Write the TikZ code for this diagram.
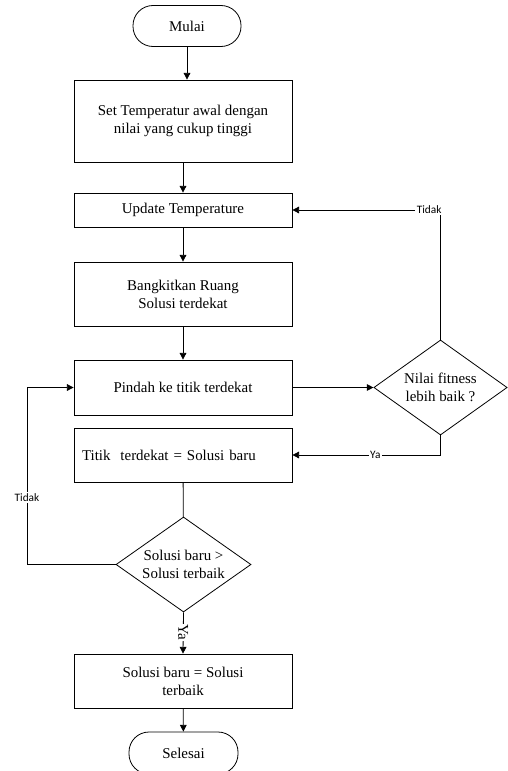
\documentclass[tikz,border=0pt]{standalone}
\usepackage{fontspec}
\setmainfont{Liberation Serif}
\newfontfamily\lblfont{Carlito}
\usetikzlibrary{arrows.meta,shapes.geometric}

\tikzset{
  txt/.style={font=\fontsize{11.2}{13.5}\selectfont},
  proc/.style={draw,rectangle,txt,minimum width=163.5pt,inner sep=0pt,align=center},
  term/.style={draw,rectangle,txt,rounded corners=15pt,minimum width=81pt,minimum height=30.75pt,inner sep=0pt},
  decide/.style={draw,diamond,txt,aspect=1.4,inner sep=0pt,minimum width=100pt,minimum height=71.25pt,align=center},
  flow/.style={-{Triangle[length=5pt,width=5pt]}},
  tag/.style={font=\lblfont\fontsize{8.5}{10}\selectfont,fill=white,inner sep=1pt},
}

\begin{document}
\begin{tikzpicture}[x=0.75pt,y=-0.75pt,line width=0.6pt]
\useasboundingbox (0,0) rectangle (507,771);
\node[term] (mulai) at (187,26) {Mulai};
\node[proc,minimum height=61.5pt] (settemp) at (183,121) {Set Temperatur awal dengan\\nilai yang cukup tinggi};
\node[proc,minimum height=25.5pt] (update) at (183,210) {Update Temperature};
\node[proc,minimum height=48pt] (bangkit) at (183,294) {Bangkitkan Ruang\\Solusi terdekat};
\node[proc,minimum height=41.25pt] (pindah) at (183,387.5) {Pindah ke titik terdekat};
\node[proc,minimum height=40.5pt,text width=151.5pt,inner xsep=6pt,align=left] (titik) at (183,455) {Titik\ \ terdekat = Solusi baru};
\node[decide] (fit) at (440.5,387.5) {Nilai fitness\\lebih baik ?};
\node[decide,minimum width=101.25pt] (cmp) at (183.5,564.5) {Solusi baru >\\Solusi terbaik};
\node[proc,minimum height=40.5pt] (solusi) at (183,681) {Solusi baru = Solusi\\terbaik};
\node[term,minimum width=81.75pt,minimum height=31.5pt] (selesai) at (183.5,753) {Selesai};
\coordinate (back) at (27,0);

\draw[flow] (mulai.south) -- (mulai.south |- settemp.north);
\draw[flow] (settemp) -- (update);
\draw[flow] (update) -- (bangkit);
\draw[flow] (bangkit) -- (pindah);
\draw[flow] (pindah.east) -- (fit.west);
\draw[flow] (fit.north) -- (fit.north |- update.east) node[tag,anchor=east,xshift=2pt]{Tidak} -- (update.east);
\draw[flow] (fit.south) |- (titik.east) node[tag,pos=0.72]{Ya};
\draw (titik) -- (cmp);
\draw[flow] (cmp.west) -- (cmp.west -| back) |- (pindah.west) node[tag,pos=0.19]{Tidak};
\draw[flow] (cmp.south) -- (solusi.north) node[txt,pos=0.48,rotate=-90,fill=white,inner sep=0.5pt]{Ya};
\draw[flow] (solusi) -- (selesai);
\end{tikzpicture}
\end{document}
